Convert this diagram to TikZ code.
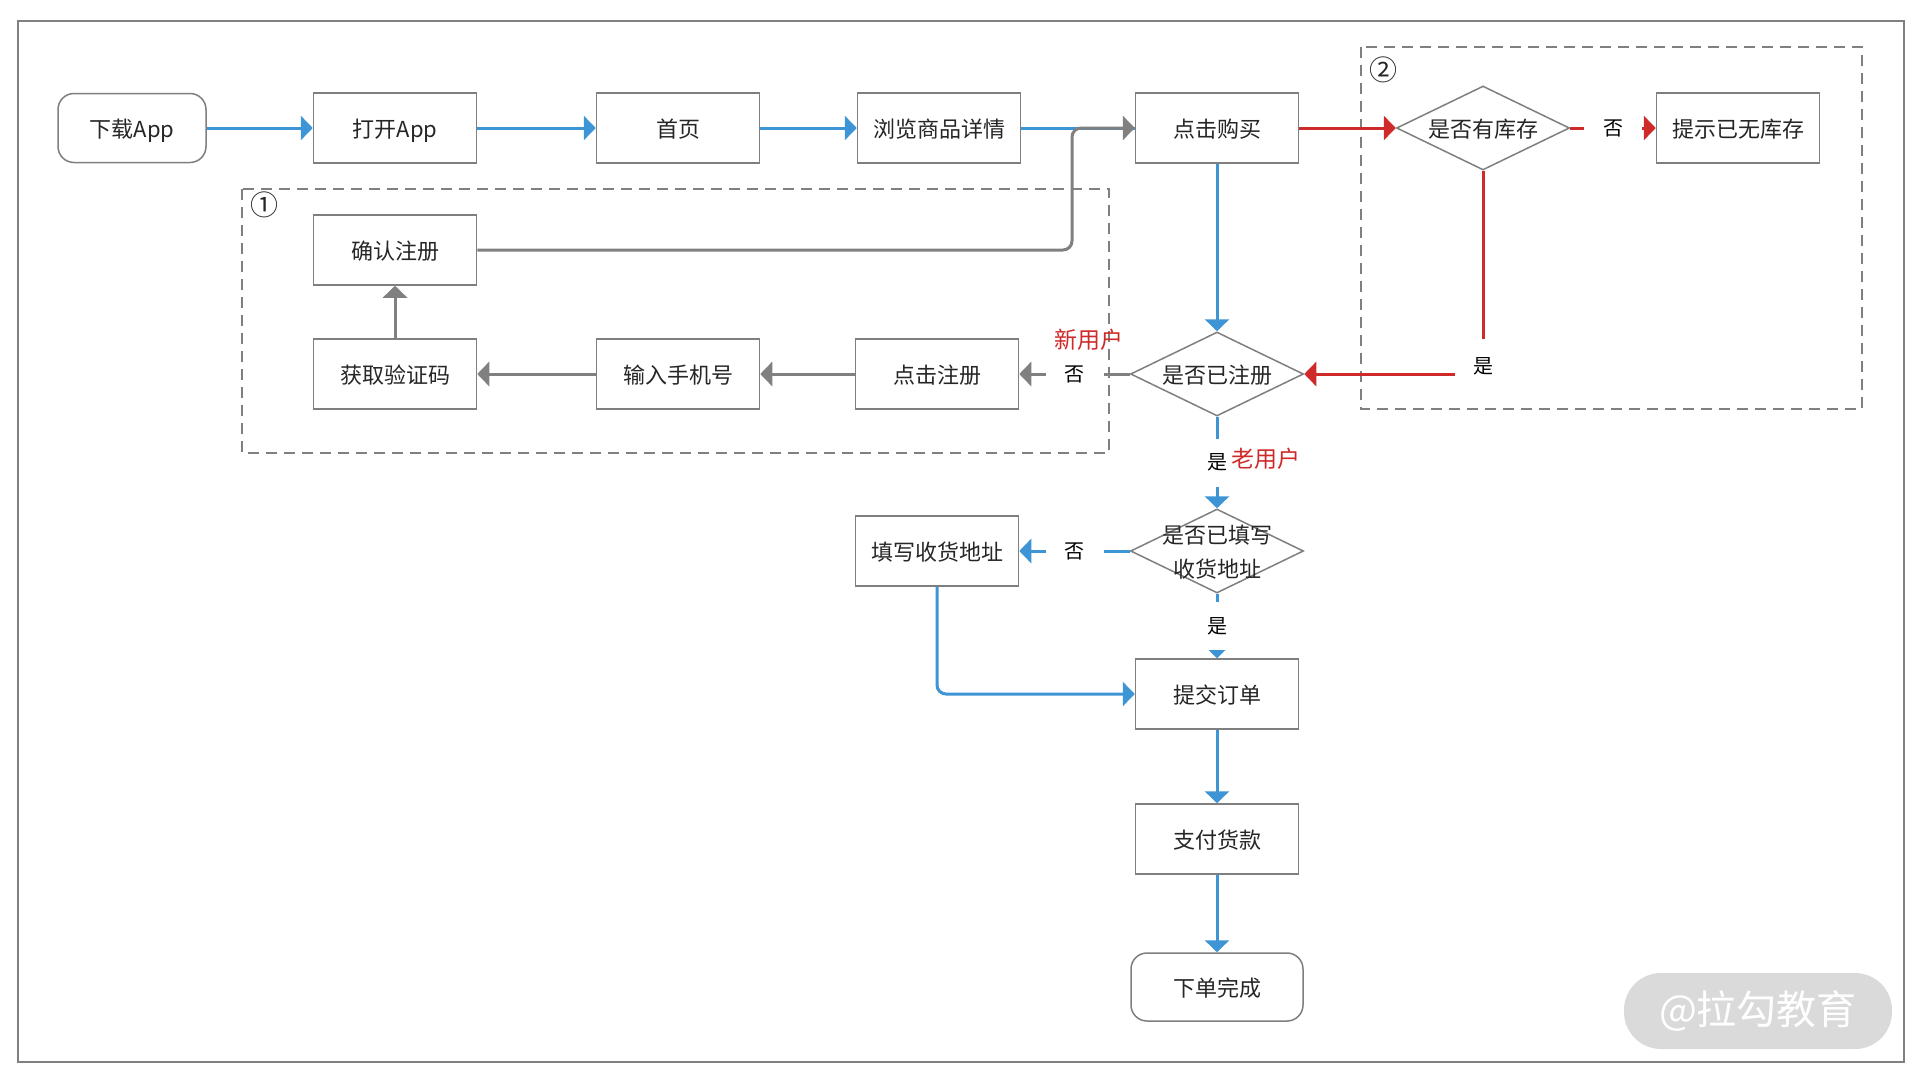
\documentclass[tikz,border=0pt]{standalone}
\usepackage{fontspec}
\setmainfont{Noto Sans CJK SC}
\usetikzlibrary{shapes.geometric,arrows.meta,calc}
\definecolor{cblue}{HTML}{3E95D5}
\definecolor{cred}{HTML}{CF2A2A}
\definecolor{cgray}{HTML}{808080}
\definecolor{cbord}{HTML}{7F7F7F}
\definecolor{ctext}{HTML}{262626}
\definecolor{cwm}{HTML}{DADADA}
\begin{document}
\begin{tikzpicture}[x=1pt,y=-1pt,
  box/.style={draw=cbord, line width=1.5pt, minimum width=163pt, minimum height=70pt, inner sep=0pt, font=\fontsize{22}{26}\selectfont, text=ctext, text height=19pt, text depth=0pt},
  term/.style={box, rounded corners=16pt},
  decision/.style={diamond, draw=cbord, line width=1.5pt, minimum width=173pt, minimum height=84pt, inner sep=0pt},
  dtext/.style={font=\fontsize{22}{34}\selectfont, text=ctext, align=center, inner sep=0pt},
  blueln/.style={draw=cblue, line width=3pt},
  redln/.style={draw=cred, line width=3pt},
  grayln/.style={draw=cgray, line width=3pt},
  arr/.style={-{Triangle[length=12pt,width=24pt]}},
  gaplab/.style={fill=white, font=\fontsize{20}{24}\selectfont, text=black, inner sep=0pt},
  hgap/.style={gaplab, minimum width=58pt, minimum height=26pt},
  vgap/.style={gaplab, minimum width=26pt, minimum height=48pt},
  redlab/.style={font=\fontsize{23}{26}\selectfont, text=cred, inner sep=0pt},
  grpbox/.style={draw=cgray, line width=2pt, dash pattern=on 11pt off 7pt},
  numlab/.style={font=\fontsize{28}{30}\selectfont, text=ctext, inner sep=0pt},
]
\useasboundingbox (0,0) rectangle (1920,1074);
\fill[white] (0,0) rectangle (1920,1074);
\draw[draw=cgray, line width=2pt] (18,21) rectangle (1904,1062);

% groups
\draw[grpbox] (242,189) rectangle (1109,453);
\draw[grpbox] (1361,47) rectangle (1862,409);
\node[numlab] (n1) at (264,205) {①};
\node[numlab] (n2) at (1383,70) {②};

% nodes
\node[term, minimum width=148pt, minimum height=69pt] (dl) at (132,128) {下载App};
\node[box] (dk) at (395,128) {打开App};
\node[box] (sy) at (678,128) {首页};
\node[box] (ll) at (939,128) {浏览商品详情};
\node[box] (dj) at (1217,128) {点击购买};
\node[decision] (kc) at (1483,128) {};
\node[dtext] (kct) at ([yshift=-1pt]kc) {是否有库存};
\node[box] (ts) at (1738,128) {提示已无库存};
\node[box] (qr) at (395,250) {确认注册};
\node[box] (hq) at (395,374) {获取验证码};
\node[box] (sj) at (678,374) {输入手机号};
\node[box] (dz) at (937,374) {点击注册};
\node[decision] (zc) at (1217,374) {};
\node[dtext] (zct) at ([yshift=-1pt]zc) {是否已注册};
\node[decision] (tx) at (1217,551) {};
\node[dtext] (txt) at ([yshift=-1pt]tx) {是否已填写\\收货地址};
\node[box] (dzz) at (937,551) {填写收货地址};
\node[box] (tj) at (1217,694) {提交订单};
\node[box] (zf) at (1217,839) {支付货款};
\node[term, minimum width=172pt, minimum height=68pt] (wc) at (1217,987) {下单完成};

% connectors
\draw[blueln, arr] (dl) -- (dk);
\draw[blueln, arr] (dk) -- (sy);
\draw[blueln, arr] (sy) -- (ll);
\draw[blueln] (ll) -- (dj);
\coordinate (gx) at (1072,250);
\draw[grayln, arr, rounded corners=9pt] (qr.east) -- (gx) |- (dj.west);

\draw[redln, arr] (dj) -- (kc);
\draw[redln, arr] (kc) -- node[hgap] (l1) {否} (ts);
\draw[redln, arr] (kc.south) |- (zc.east);
\node[gaplab, minimum width=56pt, minimum height=54pt] (l2) at (1483,366) {是};

\draw[blueln, arr] (dj) -- (zc);
\draw[grayln, arr] (zc) -- node[hgap] (l3) {否} (dz);
\draw[grayln, arr] (dz) -- (sj);
\draw[grayln, arr] (sj) -- (hq);
\draw[grayln, arr] (hq) -- (qr);

\draw[blueln, arr] (zc) -- node[vgap] (l4) {是} (tx);
\draw[blueln, arr] (tx) -- node[hgap] (l5) {否} (dzz);
\draw[blueln, arr] (tx) -- node[vgap] (l6) {是} (tj);
\draw[blueln, arr, rounded corners=9pt] (dzz.south) |- (tj.west);
\draw[blueln, arr] (tj) -- (zf);
\draw[blueln, arr] (zf) -- (wc);

\node[redlab] (xyh) at (1089,340) {新用户};
\node[redlab] (lyh) at (1266,459) {老用户};

% watermark
\node[fill=cwm, rounded corners=37pt, minimum width=268pt, minimum height=76pt, text=white, font=\fontsize{40}{44}\selectfont, inner sep=0pt] (wm) at (1758,1011) {@拉勾教育};
\end{tikzpicture}
\end{document}
